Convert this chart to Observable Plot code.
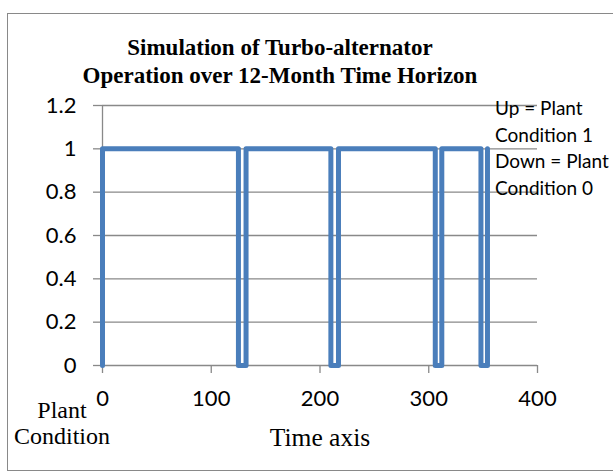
<!DOCTYPE html>
<html>
<head>
<meta charset="utf-8">
<script src="https://cdn.jsdelivr.net/npm/d3@7"></script>
<script src="https://cdn.jsdelivr.net/npm/@observablehq/plot@0.6"></script>
<style>
  body { margin: 0; background: #fff; }
  #wrap { position: relative; width: 613px; height: 473px; overflow: hidden; background: #fff; }
  #border { position: absolute; left: 7px; top: 13px; width: 612px; height: 458px; border: 1.5px solid #898989; box-sizing: border-box; }
  #chart { position: absolute; left: 0; top: 0; }
  .t { position: absolute; white-space: nowrap; color: #000; }
  #title { left: 30px; width: 500px; top: 33.5px; text-align: center; font: bold 23px "Liberation Serif", serif; line-height: 28.6px; }
  #legend { left: 495px; top: 95px; font: 19px Lato, sans-serif; line-height: 26.7px; }
  #ylab { left: 12px; width: 100px; top: 397px; text-align: center; font: 24px "Liberation Serif", serif; line-height: 26px; }
  #xlab { left: 220px; width: 200px; top: 423px; text-align: center; font: 25.5px "Liberation Serif", serif; line-height: 30px; }
</style>
</head>
<body>
<div id="wrap">
  <div id="border"></div>
  <div id="chart"></div>
  <div class="t" id="title"></div>
  <div class="t" id="legend"></div>
  <div class="t" id="ylab"></div>
  <div class="t" id="xlab"></div>
</div>
<script>
// ---- data ----
const timeValues     = [0, 0, 125, 125, 132, 132, 210, 210, 217, 217, 306, 306, 312, 312, 348, 348, 354, 354];
const plantCondition = [0, 1, 1,   0,   0,   1,   1,   0,   0,   1,   1,   0,   0,   1,   1,   0,   0,   1];
const xTicks = [0, 100, 200, 300, 400];
const yTicks = [0, 0.2, 0.4, 0.6, 0.8, 1, 1.2];
const yTickLabels = ["0", "0.2", "0.4", "0.6", "0.8", "1", "1.2"];
const titleLines = ["Simulation of Turbo-alternator", "Operation over 12-Month Time Horizon"];
const legendLines = ["Up = Plant", "Condition 1", "Down = Plant", "Condition 0"];
const yAxisTitle = ["Plant", "Condition"];
const xAxisTitle = "Time axis";

const series = timeValues.map((t, i) => ({time: t, condition: plantCondition[i]}));
const gridColor = "#898989";

const chart = Plot.plot({
  width: 613,
  height: 473,
  marginTop: 105,
  marginBottom: 108,
  marginLeft: 102,
  marginRight: 76,
  style: {fontFamily: "Lato, sans-serif", fontSize: "22px", color: "#000", background: "transparent", overflow: "visible"},
  x: {domain: [0, 400], ticks: xTicks},
  y: {domain: [0, 1.2], ticks: yTicks},
  marks: [
    Plot.ruleY(yTicks.filter(v => v > 0), {stroke: gridColor, strokeWidth: 1.3, strokeOpacity: 1}),
    Plot.ruleY([0], {stroke: gridColor, strokeWidth: 1.3, strokeOpacity: 1}),
    Plot.ruleX([0], {stroke: gridColor, strokeWidth: 1.3, strokeOpacity: 1}),
    Plot.axisY({ticks: yTicks, tickSize: 9, tickPadding: 17, tickFormat: d => yTickLabels[yTicks.indexOf(d)], stroke: gridColor, strokeOpacity: 1, strokeWidth: 1.3, fontSize: 22, label: null}),
    Plot.axisX({ticks: xTicks, tickSize: 8, tickPadding: 17, tickFormat: d => String(d), stroke: gridColor, strokeOpacity: 1, strokeWidth: 1.3, fontSize: 22, label: null}),
    Plot.line(series, {x: "time", y: "condition", stroke: "#4a7ebb", strokeWidth: 5, strokeLinejoin: "round", strokeLinecap: "round", curve: "linear"})
  ]
});
document.getElementById("chart").appendChild(chart);
document.getElementById("title").innerHTML = titleLines.join("<br>");
document.getElementById("legend").innerHTML = legendLines.join("<br>");
document.getElementById("ylab").innerHTML = yAxisTitle.join("<br>");
document.getElementById("xlab").textContent = xAxisTitle;
</script>
</body>
</html>
